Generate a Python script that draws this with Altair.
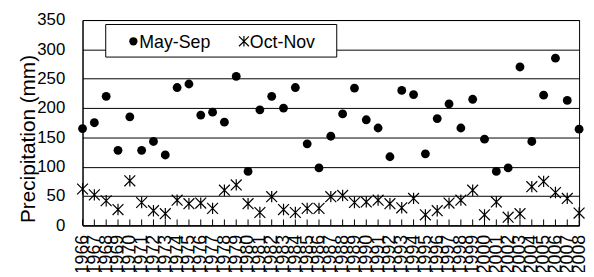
import altair as alt
import pandas as pd

# ---- data ----
years = list(range(1966, 2009))
may_sep = [165, 175, 220, 128, 185, 128, 143, 120, 235, 241, 188,
           193, 176, 254, 92, 197, 220, 200, 235, 139, 98, 152,
           190, 234, 180, 166, 117, 230, 223, 122, 182, 207, 166,
           215, 147, 92, 98, 270, 143, 222, 285, 213, 164]
oct_nov = [62, 52, 42, 27, 76, 39, 25, 20, 43, 37, 38,
           29, 60, 69, 37, 22, 49, 27, 22, 29, 29, 49,
           51, 39, 40, 43, 37, 30, 46, 18, 25, 38, 43,
           60, 18, 40, 14, 20, 66, 75, 56, 46, 21]
series_names = ["May-Sep", "Oct-Nov"]
y_ticks = [0, 50, 100, 150, 200, 250, 300, 350]
y_title = "Precipitation (mm)"

df_may = pd.DataFrame({"year": years, "value": may_sep})
df_oct = pd.DataFrame({"year": years, "value": oct_nov})
df_years = pd.DataFrame({"year": years, "value": [0] * len(years)})
one = pd.DataFrame({"k": [0]})

FONT = "Liberation Sans"
W, H = 503, 208
ASTER = "M-1,-1L1,1M-1,1L1,-1M0,-1.05L0,1.05"

x_enc = alt.X(
    "year:Q",
    scale=alt.Scale(domain=[years[0], years[-1]], nice=False, zero=False),
    axis=alt.Axis(values=years, format="d", labelAngle=270, labelFont=FONT,
                  labelFontSize=18, labelColor="black", labelPadding=9,
                  labelOverlap=False, labelFlush=False, ticks=False, tickSize=0,
                  domainColor="black", domainWidth=1, grid=False, title=None),
)
y_enc = alt.Y(
    "value:Q",
    scale=alt.Scale(domain=[0, 350], nice=False),
    axis=alt.Axis(values=y_ticks, grid=True, gridColor="black", gridOpacity=1,
                  gridWidth=1, ticks=False, tickSize=0, labelPadding=18,
                  labelFont=FONT, labelFontSize=17, labelColor="black",
                  labelOverlap=False,
                  domainColor="black", domainWidth=1,
                  title=y_title, titleFont=FONT, titleFontSize=21,
                  titleFontWeight="normal", titleColor="black", titleAngle=270,
                  titleX=-49, titleY=120, titleAlign="center",
                  titleBaseline="alphabetic"),
)

circles = alt.Chart(df_may).mark_point(
    shape="circle", filled=True, size=80, color="black", opacity=1
).encode(x=x_enc, y=y_enc)

asters = alt.Chart(df_oct).mark_point(
    shape=ASTER, filled=False, size=121, color="black", strokeWidth=1.2, opacity=1
).encode(x=x_enc, y=y_enc)

ticks = alt.Chart(df_years).mark_rule(color="black", strokeWidth=1).encode(
    x=x_enc, y=alt.value(H - 6), y2=alt.value(H)
)

# legend (drawn as decoration)
box = alt.Chart(one).mark_rect(fill="white", stroke="black", strokeWidth=1).encode(
    x=alt.value(23.5), x2=alt.value(257.5), y=alt.value(4.5), y2=alt.value(37.5)
)
leg_c = alt.Chart(one).mark_point(
    shape="circle", filled=True, size=70, color="black", opacity=1
).encode(x=alt.value(51.5), y=alt.value(21.5))
leg_a = alt.Chart(one).mark_point(
    shape=ASTER, filled=False, size=100, color="black", strokeWidth=1.2, opacity=1
).encode(x=alt.value(163.5), y=alt.value(21.5))
leg_t1 = alt.Chart(one).mark_text(
    align="left", baseline="alphabetic", font=FONT, fontSize=18, color="black"
).encode(x=alt.value(57.5), y=alt.value(28.5), text=alt.value(series_names[0]))
leg_t2 = alt.Chart(one).mark_text(
    align="left", baseline="alphabetic", font=FONT, fontSize=18, color="black"
).encode(x=alt.value(169.5), y=alt.value(28.5), text=alt.value(series_names[1]))

chart = alt.layer(circles, asters, ticks, box, leg_c, leg_a, leg_t1, leg_t2).properties(
    width=W, height=H,
    autosize=alt.AutoSizeParams(type="none"),
    padding={"left": 75.5, "top": 10.5, "right": 7, "bottom": 45},
    background="white",
).configure_view(stroke="black", strokeWidth=1)

chart.save("out.html", embed_options={"renderer": "svg", "actions": False})
